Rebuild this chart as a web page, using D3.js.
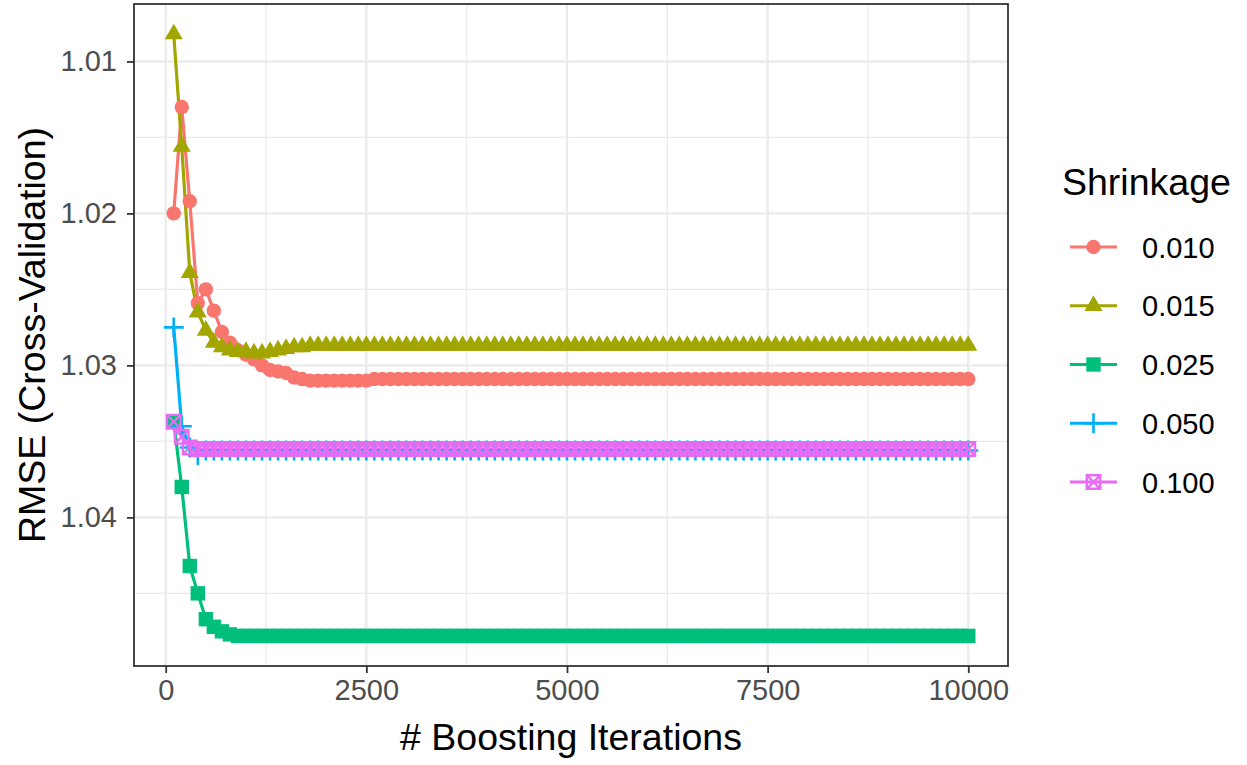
<!DOCTYPE html>
<html>
<head>
<meta charset="utf-8">
<script src="https://cdn.jsdelivr.net/npm/d3@7"></script>
<style>
  body { margin: 0; background: #fff; }
  text { font-family: "Liberation Sans", Arial, Helvetica, sans-serif; }
</style>
</head>
<body>
<div id="chart"></div>
<script>
// DATA
const iterations = d3.range(100, 10001, 100); // 100, 200, ..., 10000 boosting iterations
const shrinkage = ["0.010", "0.015", "0.025", "0.050", "0.100"];

const rmse_010 = [
  1.0200, 1.0130, 1.0192, 1.0259, 1.0250, 1.0264, 1.0278, 1.0285, 1.0290, 1.0293,
  1.0296, 1.0300, 1.0303, 1.0304, 1.0305, 1.0308, 1.0309, 1.0310, 1.0310, 1.0310,
  1.0310, 1.0310, 1.0310, 1.0310, 1.0310, 1.0309, 1.0309, 1.0309, 1.0309, 1.0309,
  1.0309, 1.0309, 1.0309, 1.0309, 1.0309, 1.0309, 1.0309, 1.0309, 1.0309, 1.0309,
  1.0309, 1.0309, 1.0309, 1.0309, 1.0309, 1.0309, 1.0309, 1.0309, 1.0309, 1.0309,
  1.0309, 1.0309, 1.0309, 1.0309, 1.0309, 1.0309, 1.0309, 1.0309, 1.0309, 1.0309,
  1.0309, 1.0309, 1.0309, 1.0309, 1.0309, 1.0309, 1.0309, 1.0309, 1.0309, 1.0309,
  1.0309, 1.0309, 1.0309, 1.0309, 1.0309, 1.0309, 1.0309, 1.0309, 1.0309, 1.0309,
  1.0309, 1.0309, 1.0309, 1.0309, 1.0309, 1.0309, 1.0309, 1.0309, 1.0309, 1.0309,
  1.0309, 1.0309, 1.0309, 1.0309, 1.0309, 1.0309, 1.0309, 1.0309, 1.0309, 1.0309
];
const rmse_015 = [
  1.0082, 1.0156, 1.0239, 1.0265, 1.0277, 1.0285, 1.0288, 1.0290, 1.0291, 1.0291,
  1.0292, 1.0292, 1.0291, 1.0290, 1.0289, 1.0288, 1.0288, 1.0287, 1.0287, 1.0287,
  1.0287, 1.0287, 1.0287, 1.0287, 1.0287, 1.0287, 1.0287, 1.0287, 1.0287, 1.0287,
  1.0287, 1.0287, 1.0287, 1.0287, 1.0287, 1.0287, 1.0287, 1.0287, 1.0287, 1.0287,
  1.0287, 1.0287, 1.0287, 1.0287, 1.0287, 1.0287, 1.0287, 1.0287, 1.0287, 1.0287,
  1.0287, 1.0287, 1.0287, 1.0287, 1.0287, 1.0287, 1.0287, 1.0287, 1.0287, 1.0287,
  1.0287, 1.0287, 1.0287, 1.0287, 1.0287, 1.0287, 1.0287, 1.0287, 1.0287, 1.0287,
  1.0287, 1.0287, 1.0287, 1.0287, 1.0287, 1.0287, 1.0287, 1.0287, 1.0287, 1.0287,
  1.0287, 1.0287, 1.0287, 1.0287, 1.0287, 1.0287, 1.0287, 1.0287, 1.0287, 1.0287,
  1.0287, 1.0287, 1.0287, 1.0287, 1.0287, 1.0287, 1.0287, 1.0287, 1.0287, 1.0287
];
const rmse_025 = [
  1.0337, 1.0380, 1.0432, 1.0450, 1.0467, 1.0472, 1.0475, 1.0477, 1.0478, 1.0478,
  1.0478, 1.0478, 1.0478, 1.0478, 1.0478, 1.0478, 1.0478, 1.0478, 1.0478, 1.0478,
  1.0478, 1.0478, 1.0478, 1.0478, 1.0478, 1.0478, 1.0478, 1.0478, 1.0478, 1.0478,
  1.0478, 1.0478, 1.0478, 1.0478, 1.0478, 1.0478, 1.0478, 1.0478, 1.0478, 1.0478,
  1.0478, 1.0478, 1.0478, 1.0478, 1.0478, 1.0478, 1.0478, 1.0478, 1.0478, 1.0478,
  1.0478, 1.0478, 1.0478, 1.0478, 1.0478, 1.0478, 1.0478, 1.0478, 1.0478, 1.0478,
  1.0478, 1.0478, 1.0478, 1.0478, 1.0478, 1.0478, 1.0478, 1.0478, 1.0478, 1.0478,
  1.0478, 1.0478, 1.0478, 1.0478, 1.0478, 1.0478, 1.0478, 1.0478, 1.0478, 1.0478,
  1.0478, 1.0478, 1.0478, 1.0478, 1.0478, 1.0478, 1.0478, 1.0478, 1.0478, 1.0478,
  1.0478, 1.0478, 1.0478, 1.0478, 1.0478, 1.0478, 1.0478, 1.0478, 1.0478, 1.0478
];
const rmse_050 = [
  1.0275, 1.0340, 1.0354, 1.0359, 1.0356, 1.0356, 1.0356, 1.0356, 1.0356, 1.0356,
  1.0356, 1.0356, 1.0356, 1.0356, 1.0356, 1.0356, 1.0356, 1.0356, 1.0356, 1.0356,
  1.0356, 1.0356, 1.0356, 1.0356, 1.0356, 1.0356, 1.0356, 1.0356, 1.0356, 1.0356,
  1.0356, 1.0356, 1.0356, 1.0356, 1.0356, 1.0356, 1.0356, 1.0356, 1.0356, 1.0356,
  1.0356, 1.0356, 1.0356, 1.0356, 1.0356, 1.0356, 1.0356, 1.0356, 1.0356, 1.0356,
  1.0356, 1.0356, 1.0356, 1.0356, 1.0356, 1.0356, 1.0356, 1.0356, 1.0356, 1.0356,
  1.0356, 1.0356, 1.0356, 1.0356, 1.0356, 1.0356, 1.0356, 1.0356, 1.0356, 1.0356,
  1.0356, 1.0356, 1.0356, 1.0356, 1.0356, 1.0356, 1.0356, 1.0356, 1.0356, 1.0356,
  1.0356, 1.0356, 1.0356, 1.0356, 1.0356, 1.0356, 1.0356, 1.0356, 1.0356, 1.0356,
  1.0356, 1.0356, 1.0356, 1.0356, 1.0356, 1.0356, 1.0356, 1.0356, 1.0356, 1.0356
];
const rmse_100 = [
  1.0337, 1.0347, 1.0354, 1.0355, 1.0355, 1.0355, 1.0355, 1.0355, 1.0355, 1.0355,
  1.0355, 1.0355, 1.0355, 1.0355, 1.0355, 1.0355, 1.0355, 1.0355, 1.0355, 1.0355,
  1.0355, 1.0355, 1.0355, 1.0355, 1.0355, 1.0355, 1.0355, 1.0355, 1.0355, 1.0355,
  1.0355, 1.0355, 1.0355, 1.0355, 1.0355, 1.0355, 1.0355, 1.0355, 1.0355, 1.0355,
  1.0355, 1.0355, 1.0355, 1.0355, 1.0355, 1.0355, 1.0355, 1.0355, 1.0355, 1.0355,
  1.0355, 1.0355, 1.0355, 1.0355, 1.0355, 1.0355, 1.0355, 1.0355, 1.0355, 1.0355,
  1.0355, 1.0355, 1.0355, 1.0355, 1.0355, 1.0355, 1.0355, 1.0355, 1.0355, 1.0355,
  1.0355, 1.0355, 1.0355, 1.0355, 1.0355, 1.0355, 1.0355, 1.0355, 1.0355, 1.0355,
  1.0355, 1.0355, 1.0355, 1.0355, 1.0355, 1.0355, 1.0355, 1.0355, 1.0355, 1.0355,
  1.0355, 1.0355, 1.0355, 1.0355, 1.0355, 1.0355, 1.0355, 1.0355, 1.0355, 1.0355
];

const xTicks = [0, 2500, 5000, 7500, 10000];
const yTicks = [1.01, 1.02, 1.03, 1.04];

// ggplot default hue palette + shapes 16, 17, 15, 3, 7
const colors = ["#F8766D", "#A3A500", "#00BF7D", "#00B0F6", "#E76BF3"];
const shapes = ["circle", "triangle", "square", "plus", "squarecross"];

const series = [rmse_010, rmse_015, rmse_025, rmse_050, rmse_100].map((vals, i) => ({
  name: shrinkage[i],
  color: colors[i],
  shape: shapes[i],
  values: vals.map((v, j) => ({ iter: iterations[j], rmse: v }))
}));

// LAYOUT
const W = 1247, H = 765;
const panel = { left: 134, top: 4, right: 1008, bottom: 666 };

const svg = d3.select('#chart').append('svg')
  .attr('width', W)
  .attr('height', H);

// scales with ggplot's 5% expansion
const xExt = d3.extent(iterations);
const xPad = (xExt[1] - xExt[0]) * 0.05;
const xScale = d3.scaleLinear()
  .domain([xExt[0] - xPad, xExt[1] + xPad])
  .range([panel.left, panel.right]);

const allY = series.flatMap(s => s.values.map(d => d.rmse));
const yExt = d3.extent(allY);
const yPad = (yExt[1] - yExt[0]) * 0.05;
const yScale = d3.scaleLinear()   // low values at the top, like the original
  .domain([yExt[0] - yPad, yExt[1] + yPad])
  .range([panel.top, panel.bottom]);

// grid
const grid = svg.append('g').attr('class', 'grid');
const xMinor = xTicks.slice(0, -1).map((t, i) => (t + xTicks[i + 1]) / 2);
const yMinor = yTicks.slice(0, -1).map((t, i) => (t + yTicks[i + 1]) / 2)
  .concat([yTicks[yTicks.length - 1] + 0.005]);

grid.selectAll('.xminor').data(xMinor).enter().append('line')
  .attr('x1', d => xScale(d)).attr('x2', d => xScale(d))
  .attr('y1', panel.top).attr('y2', panel.bottom)
  .attr('stroke', '#EBEBEB').attr('stroke-width', 1.2);
grid.selectAll('.yminor').data(yMinor.filter(d => yScale(d) < panel.bottom)).enter().append('line')
  .attr('y1', d => yScale(d)).attr('y2', d => yScale(d))
  .attr('x1', panel.left).attr('x2', panel.right)
  .attr('stroke', '#EBEBEB').attr('stroke-width', 1.2);
grid.selectAll('.xmajor').data(xTicks).enter().append('line')
  .attr('x1', d => xScale(d)).attr('x2', d => xScale(d))
  .attr('y1', panel.top).attr('y2', panel.bottom)
  .attr('stroke', '#EBEBEB').attr('stroke-width', 2.4);
grid.selectAll('.ymajor').data(yTicks).enter().append('line')
  .attr('y1', d => yScale(d)).attr('y2', d => yScale(d))
  .attr('x1', panel.left).attr('x2', panel.right)
  .attr('stroke', '#EBEBEB').attr('stroke-width', 2.4);

// lines
const lineGenerator = d3.line()
  .x(d => xScale(d.iter))
  .y(d => yScale(d.rmse));

const plotG = svg.append('g');
plotG.selectAll('.series-line').data(series).enter().append('path')
  .attr('class', 'series-line')
  .attr('fill', 'none')
  .attr('stroke', d => d.color)
  .attr('stroke-width', 3.2)
  .attr('stroke-linejoin', 'round')
  .attr('d', d => lineGenerator(d.values));

// point markers
function drawMarker(g, shape, color, x, y) {
  if (shape === 'circle') {
    g.append('circle').attr('cx', x).attr('cy', y).attr('r', 7.2).attr('fill', color);
  } else if (shape === 'triangle') {
    const r = 10.4, xc = r * 0.866;
    g.append('path')
      .attr('d', `M${x},${y - r}L${x + xc},${y + r / 2}L${x - xc},${y + r / 2}Z`)
      .attr('fill', color);
  } else if (shape === 'square') {
    g.append('rect').attr('x', x - 7.2).attr('y', y - 7.2)
      .attr('width', 14.4).attr('height', 14.4).attr('fill', color);
  } else if (shape === 'plus') {
    g.append('path')
      .attr('d', `M${x - 10},${y}H${x + 10}M${x},${y - 10}V${y + 10}`)
      .attr('stroke', color).attr('stroke-width', 2.6).attr('fill', 'none');
  } else if (shape === 'squarecross') {
    const s = 6.8;
    g.append('path')
      .attr('d', `M${x - s},${y - s}H${x + s}V${y + s}H${x - s}Z` +
                 `M${x - s},${y - s}L${x + s},${y + s}M${x + s},${y - s}L${x - s},${y + s}`)
      .attr('stroke', color).attr('stroke-width', 2.4).attr('fill', 'none');
  }
}

series.forEach(s => {
  const g = plotG.append('g').attr('class', 'points');
  s.values.forEach(d => drawMarker(g, s.shape, s.color, xScale(d.iter), yScale(d.rmse)));
});

// panel border
svg.append('rect')
  .attr('x', panel.left).attr('y', panel.top)
  .attr('width', panel.right - panel.left).attr('height', panel.bottom - panel.top)
  .attr('fill', 'none').attr('stroke', '#333333').attr('stroke-width', 1.8);

// axes
const xAxis = d3.axisBottom(xScale).tickValues(xTicks).tickSize(7).tickPadding(6).tickFormat(d3.format('d'));
const xAxisG = svg.append('g')
  .attr('class', 'x-axis')
  .attr('transform', `translate(0, ${panel.bottom})`)
  .call(xAxis);

const yAxis = d3.axisLeft(yScale).tickValues(yTicks).tickSize(7).tickPadding(10).tickFormat(d3.format('.2f'));
const yAxisG = svg.append('g')
  .attr('class', 'y-axis')
  .attr('transform', `translate(${panel.left}, 0)`)
  .call(yAxis);

[xAxisG, yAxisG].forEach(g => {
  g.select('.domain').remove();
  g.selectAll('.tick line').attr('stroke', '#333333').attr('stroke-width', 1.8);
  g.selectAll('.tick text')
    .attr('fill', '#4D4D4D')
    .style('font-size', '29px')
    .style('font-family', '"Liberation Sans", Arial, Helvetica, sans-serif');
});

// axis titles
svg.append('text')
  .attr('x', (panel.left + panel.right) / 2)
  .attr('y', 750)
  .attr('text-anchor', 'middle')
  .style('font-size', '37.5px')
  .attr('fill', '#000')
  .text('# Boosting Iterations');

svg.append('text')
  .attr('transform', `translate(45, ${(panel.top + panel.bottom) / 2}) rotate(-90)`)
  .attr('text-anchor', 'middle')
  .style('font-size', '37.5px')
  .attr('fill', '#000')
  .text('RMSE (Cross-Validation)');

// legend
const legend = svg.append('g').attr('class', 'legend');
legend.append('text')
  .attr('x', 1062).attr('y', 195)
  .style('font-size', '37.5px')
  .attr('fill', '#000')
  .text('Shrinkage');

const legendY = d3.scalePoint().domain(shrinkage).range([247, 482]);
series.forEach(s => {
  const y = legendY(s.name);
  const key = legend.append('g');
  key.append('line')
    .attr('x1', 1070).attr('x2', 1117).attr('y1', y).attr('y2', y)
    .attr('stroke', s.color).attr('stroke-width', 3.2);
  drawMarker(key, s.shape, s.color, 1093.5, y);
  legend.append('text')
    .attr('x', 1142).attr('y', y + 10.5)
    .style('font-size', '29px')
    .attr('fill', '#000')
    .text(s.name);
});
</script>
</body>
</html>
